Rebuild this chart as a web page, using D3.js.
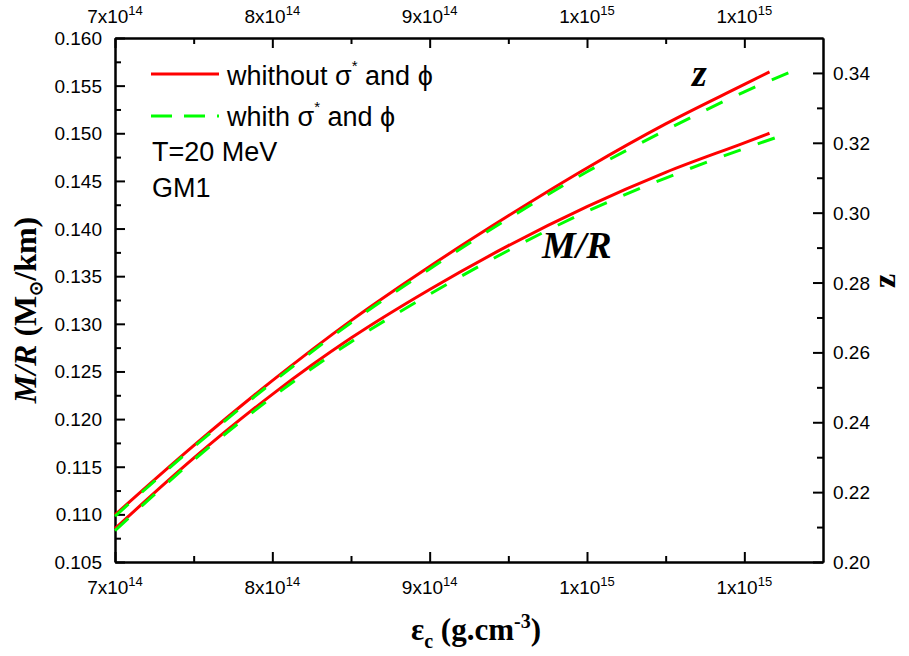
<!DOCTYPE html>
<html>
<head>
<meta charset="utf-8">
<script src="https://cdn.jsdelivr.net/npm/d3@7"></script>
<style>
body{margin:0;background:#fff;}
text{font-family:"Liberation Sans",Arial,sans-serif;fill:#000;}
.serif{font-family:"Liberation Serif","Times New Roman",serif;font-weight:bold;}
.ax .domain,.ax line{stroke:#000;stroke-width:2;}
</style>
</head>
<body>
<div class="chart"></div>
<script>
// central energy density (g/cm^3)
var epsRed=[7.0e14,7.5e14,8.0e14,8.5e14,9.0e14,9.5e14,1.0e15,1.05e15,1.10e15,1.116e15];
var epsGreen=[7.0e14,7.5e14,8.0e14,8.5e14,9.0e14,9.5e14,1.0e15,1.05e15,1.10e15,1.130e15];

// without sigma* and phi (red)
var zRed=[0.2135,0.2333,0.2519,0.2691,0.2846,0.2991,0.3128,0.3254,0.3367,0.3403];
var mrRed=[0.1085,0.1159,0.1226,0.1285,0.1336,0.1382,0.1423,0.1459,0.1490,0.1500];
// with sigma* and phi (green)
var zGreen=[0.2131,0.2329,0.2514,0.2685,0.2839,0.2983,0.3117,0.3236,0.3346,0.3404];
var mrGreen=[0.1083,0.1157,0.1223,0.1281,0.1331,0.1377,0.1418,0.1453,0.1484,0.1501];

var xMajor=[7e14,8e14,9e14,1e15,1.1e15];
var xMinor=[7.5e14,8.5e14,9.5e14,1.05e15];
var xLabBase=["7","8","9","1","1"];
var xLabExp=["14","14","14","15","15"];

var yLMajor=[0.105,0.110,0.115,0.120,0.125,0.130,0.135,0.140,0.145,0.150,0.155,0.160];
var yLMinor=[0.1075,0.1125,0.1175,0.1225,0.1275,0.1325,0.1375,0.1425,0.1475,0.1525,0.1575];
var yRMajor=[0.20,0.22,0.24,0.26,0.28,0.30,0.32,0.34];
var yRMinor=[0.21,0.23,0.25,0.27,0.29,0.31,0.33];

var L=115, R=823, T=38, B=562;

var svg=d3.select(".chart").append("svg")
  .attr("width",909)
  .attr("height",656);

var x=d3.scaleLinear().domain([7e14,1.15e15]).range([L,R]);
var yL=d3.scaleLinear().domain([0.105,0.160]).range([B,T]);
var yR=d3.scaleLinear().domain([0.20,0.35]).range([B,T]);

function ticks(axis,tx,ty){
  svg.append("g").attr("class","ax")
    .attr("transform","translate("+tx+","+ty+")")
    .call(axis);
}

// frame + ticks, all inward
ticks(d3.axisBottom(x).tickValues(xMajor).tickSize(-10).tickSizeOuter(0).tickFormat(""),0,B);
ticks(d3.axisBottom(x).tickValues(xMinor).tickSize(-6).tickSizeOuter(0).tickFormat(""),0,B);
ticks(d3.axisTop(x).tickValues(xMajor).tickSize(-10).tickSizeOuter(0).tickFormat(""),0,T);
ticks(d3.axisTop(x).tickValues(xMinor).tickSize(-6).tickSizeOuter(0).tickFormat(""),0,T);
ticks(d3.axisLeft(yL).tickValues(yLMajor).tickSize(-10).tickSizeOuter(0).tickFormat(""),L,0);
ticks(d3.axisLeft(yL).tickValues(yLMinor).tickSize(-6).tickSizeOuter(0).tickFormat(""),L,0);
ticks(d3.axisRight(yR).tickValues(yRMajor).tickSize(-10).tickSizeOuter(0).tickFormat(""),R,0);
ticks(d3.axisRight(yR).tickValues(yRMinor).tickSize(-6).tickSizeOuter(0).tickFormat(""),R,0);

// x tick labels (bottom and top)
[594,23].forEach(function(yy){
  xMajor.forEach(function(v,i){
    var t=svg.append("text")
      .attr("x",x(v)).attr("y",yy)
      .attr("text-anchor","middle")
      .attr("font-size",19);
    t.append("tspan").text(xLabBase[i]+"x10");
    t.append("tspan").attr("font-size",13).attr("dy",-8).text(xLabExp[i]);
  });
});

svg.selectAll(".ylab").data(yLMajor).enter().append("text")
  .attr("x",102).attr("y",function(d){return yL(d)+7;})
  .attr("text-anchor","end").attr("font-size",19)
  .text(function(d){return d.toFixed(3);});

svg.selectAll(".yrlab").data(yRMajor).enter().append("text")
  .attr("x",833).attr("y",function(d){return yR(d)+7;})
  .attr("font-size",19)
  .text(function(d){return d.toFixed(2);});

// curves
function draw(eps,vals,scale,col,dash){
  var pts=eps.map(function(e,i){return [e,vals[i]];});
  var line=d3.line()
    .x(function(d){return x(d[0]);})
    .y(function(d){return scale(d[1]);})
    .curve(d3.curveMonotoneX);
  var p=svg.append("path").datum(pts)
    .attr("d",line)
    .attr("fill","none")
    .attr("stroke",col)
    .attr("stroke-width",3);
  if(dash) p.attr("stroke-dasharray",dash);
}
draw(epsRed,zRed,yR,"#ff0000",null);
draw(epsRed,mrRed,yL,"#ff0000",null);
draw(epsGreen,zGreen,yR,"#00ff00","18,18");
draw(epsGreen,mrGreen,yL,"#00ff00","18,18");

// legend
svg.append("line").attr("x1",151).attr("x2",219).attr("y1",74).attr("y2",74)
  .attr("stroke","#ff0000").attr("stroke-width",3);
svg.append("line").attr("x1",151).attr("x2",219).attr("y1",116).attr("y2",116)
  .attr("stroke","#00ff00").attr("stroke-width",3).attr("stroke-dasharray","21,12");

var lg1=svg.append("text").attr("x",227).attr("y",85).attr("font-size",27);
lg1.append("tspan").text("whithout σ");
lg1.append("tspan").attr("font-size",15).attr("dy",-14).text("*");
lg1.append("tspan").attr("dy",14).text(" and ϕ");

var lg2=svg.append("text").attr("x",227).attr("y",126).attr("font-size",27);
lg2.append("tspan").text("whith σ");
lg2.append("tspan").attr("font-size",15).attr("dy",-14).text("*");
lg2.append("tspan").attr("dy",14).text(" and ϕ");

svg.append("text").attr("x",152).attr("y",161).attr("font-size",27).text("T=20 MeV");
svg.append("text").attr("x",152).attr("y",197).attr("font-size",27).text("GM1");

// curve labels
svg.append("text").attr("class","serif").attr("font-style","italic")
  .attr("x",692).attr("y",86).attr("font-size",38).text("z");
svg.append("text").attr("class","serif").attr("font-style","italic")
  .attr("x",542).attr("y",258).attr("font-size",38).text("M/R");

// axis titles
var xt=svg.append("text").attr("class","serif").attr("font-size",31)
  .attr("text-anchor","middle").attr("x",476).attr("y",640);
xt.append("tspan").text("ε");
xt.append("tspan").attr("font-size",20).attr("dy",8).text("c");
xt.append("tspan").attr("dy",-8).text(" (g.cm");
xt.append("tspan").attr("font-size",20).attr("dy",-12).text("-3");
xt.append("tspan").attr("dy",12).text(")");

var lt=svg.append("text").attr("class","serif").attr("font-size",32)
  .attr("text-anchor","middle").attr("transform","translate(36,310) rotate(-90)");
lt.append("tspan").attr("font-style","italic").text("M/R");
lt.append("tspan").text(" (M");
lt.append("tspan").attr("font-size",18).attr("dy",6).text("⊙");
lt.append("tspan").attr("dy",-6).text("/km)");

svg.append("text").attr("class","serif").attr("font-size",32)
  .attr("text-anchor","middle").attr("transform","translate(895,281) rotate(-90)")
  .text("z");
</script>
</body>
</html>
